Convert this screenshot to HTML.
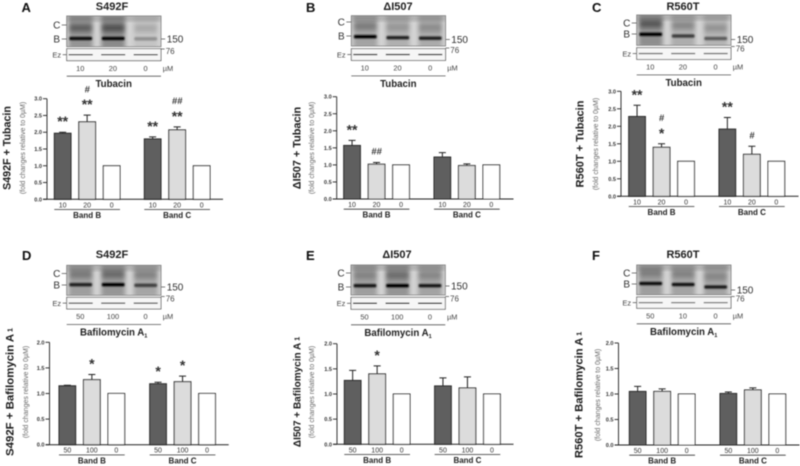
<!DOCTYPE html>
<html lang="en">
<head>
<meta charset="utf-8">
<title>CFTR band quantification panels</title>
<style>
html,body{margin:0;padding:0;background:#fff;width:800px;height:466px;overflow:hidden}
svg{display:block;font-family:"Liberation Sans",sans-serif}
</style>
</head>
<body>
<svg id="figure" xmlns="http://www.w3.org/2000/svg" width="800" height="466" viewBox="0 0 800 466">
<defs>
<filter id="soft" x="-5%" y="-5%" width="110%" height="110%"><feGaussianBlur stdDeviation="0.45"/></filter>
<filter id="smear" x="-30%" y="-30%" width="160%" height="160%"><feGaussianBlur stdDeviation="2.2"/></filter>
<filter id="bandblur" x="-20%" y="-100%" width="140%" height="300%"><feGaussianBlur stdDeviation="0.9"/></filter>
</defs>
<g id="root" filter="url(#soft)"></g>
</svg>
<script>
// Chart data
const barCategories = ["Band B", "Band C"];
const tubacinDoses = ["10", "20", "0"];
const bafilomycinDoses = ["50", "100", "0"];
const bafilomycinBlotDosesF = ["50", "10", "0"];
const tubacinTicks = [0, 0.5, 1, 1.5, 2, 2.5, 3];
const bafilomycinTicks = [0, 0.5, 1, 1.5, 2];

const valuesA = [1.97, 2.31, 1.0, 1.80, 2.07, 1.0];
const errorsA = [0.03, 0.20, 0, 0.06, 0.09, 0];
const marksA = [["**"], ["**", "#"], [], ["**"], ["**", "##"], []];

const valuesB = [1.57, 1.02, 1.0, 1.23, 0.98, 1.0];
const errorsB = [0.15, 0.05, 0, 0.13, 0.05, 0];
const marksB = [["**"], ["##"], [], [], [], []];

const valuesC = [2.28, 1.40, 1.0, 1.92, 1.20, 1.0];
const errorsC = [0.32, 0.10, 0, 0.33, 0.23, 0];
const marksC = [["**"], ["*", "#"], [], ["**"], ["#"], []];

const valuesD = [1.15, 1.27, 1.0, 1.19, 1.23, 1.0];
const errorsD = [0.01, 0.10, 0, 0.03, 0.11, 0];
const marksD = [[], ["*"], [], ["*"], ["*"], []];

const valuesE = [1.27, 1.40, 1.0, 1.16, 1.12, 1.0];
const errorsE = [0.20, 0.16, 0, 0.16, 0.22, 0];
const marksE = [[], ["*"], [], [], [], []];

const valuesF = [1.05, 1.05, 1.0, 1.01, 1.08, 1.0];
const errorsF = [0.10, 0.05, 0, 0.03, 0.04, 0];
const marksF = [[], [], [], [], [], []];

const NS = "http://www.w3.org/2000/svg";
const root = document.getElementById("root");

function mk(tag, attrs, parent) {
  const n = document.createElementNS(NS, tag);
  for (const k in attrs) n.setAttribute(k, attrs[k]);
  parent.appendChild(n);
  return n;
}

const panels = [
  {id:"a", letter:"A", lx:21.5, ly:12, title:"S492F", tx:112, ty:10, drug:"Tubacin", sub:false,
   values:valuesA, errors:errorsA, marks:marksA, ticks:tubacinTicks, blotDoses:tubacinDoses, barDoses:tubacinDoses,
   axisX:47, yTop:98.7, y0:199.3, xEnd:223, bar0:54.3, group2:90,
   bx:66.7, by:16, bh:30.7, ezY:48.7, ezH:12, cY:25, bY:39, kY:39, k76:51, ezO:.75,
   laneB:[.95,1,.25], laneC:[.55,.65,.18], laneBg:[.5,.58,.12], bandY:[22.5,22.5,22.8],
   yl:"S492F + Tubacin", ylS:10.7, ylX:7, subX:23, ylC:148},
  {id:"b", letter:"B", lx:306, ly:12, title:"\u0394I507", tx:398, ty:10, drug:"Tubacin", sub:false,
   values:valuesB, errors:errorsB, marks:marksB, ticks:tubacinTicks, blotDoses:tubacinDoses, barDoses:tubacinDoses,
   axisX:336.7, yTop:96.7, y0:199, xEnd:513.5, bar0:343.7, group2:90.3,
   bx:351.3, by:15.7, bh:30.3, ezY:48.7, ezH:11.7, cY:22, bY:36, kY:39.5, k76:50, ezO:.85,
   laneB:[1,.8,.8], laneC:[.35,.2,.25], laneBg:[.38,.28,.32], bandY:[21,22,22.5],
   yl:"\u0394I507 + Tubacin", ylS:10.9, ylX:297, subX:312, ylC:148},
  {id:"c", letter:"C", lx:592, ly:12, title:"R560T", tx:683, ty:10, drug:"Tubacin", sub:false,
   values:valuesC, errors:errorsC, marks:marksC, ticks:tubacinTicks, blotDoses:tubacinDoses, barDoses:tubacinDoses,
   axisX:621, yTop:91.3, y0:196.3, xEnd:798.5, bar0:628.7, group2:90.3,
   bx:636.7, by:15, bh:30.3, ezY:47.7, ezH:11.7, cY:23, bY:34, kY:39.5, k76:48.5, ezO:.6,
   laneB:[1,.65,.5], laneC:[.6,.3,.25], laneBg:[.55,.3,.25], bandY:[19.3,21,23.5],
   yl:"R560T + Tubacin", ylS:11, ylX:580, subX:596, ylC:144},
  {id:"d", letter:"D", lx:22, ly:260, title:"S492F", tx:112, ty:258, drug:"Bafilomycin A", sub:true,
   values:valuesD, errors:errorsD, marks:marksD, ticks:bafilomycinTicks, blotDoses:bafilomycinDoses, barDoses:bafilomycinDoses,
   axisX:49.5, yTop:342.3, y0:444.7, xEnd:228.7, bar0:59, group2:90.7,
   bx:66.7, by:265.3, bh:30, ezY:297.3, ezH:11.7, cY:273.5, bY:285, kY:287, k76:298.5, ezO:.7,
   laneB:[.8,1,.6], laneC:[.35,.45,.3], laneBg:[.42,.48,.36], bandY:[19.4,19.4,20],
   yl:"S492F + Bafilomycin A", ylSub:" 1", ylS:11.4, ylX:10, subX:26, ylC:392},
  {id:"e", letter:"E", lx:306, ly:260, title:"\u0394I507", tx:397, ty:258, drug:"Bafilomycin A", sub:true,
   values:valuesE, errors:errorsE, marks:marksE, ticks:bafilomycinTicks, blotDoses:bafilomycinDoses, barDoses:bafilomycinDoses,
   axisX:337, yTop:343.7, y0:444.3, xEnd:513.5, bar0:344.3, group2:90.3,
   bx:351, by:265, bh:30, ezY:297.3, ezH:12, cY:273, bY:287, kY:286, k76:298.5, ezO:.95,
   laneB:[.85,1,.85], laneC:[.25,.4,.25], laneBg:[.42,.5,.38], bandY:[20.7,20.7,20.7],
   yl:"\u0394I507 + Bafilomycin A", ylSub:" 1", ylS:10, ylX:297, subX:312, ylC:392},
  {id:"f", letter:"F", lx:592, ly:260, title:"R560T", tx:683, ty:258, drug:"Bafilomycin A", sub:true,
   values:valuesF, errors:errorsF, marks:marksF, ticks:bafilomycinTicks, blotDoses:bafilomycinBlotDosesF, barDoses:bafilomycinDoses,
   axisX:618.5, yTop:343, y0:445, xEnd:799.5, bar0:629.3, group2:90.7,
   bx:636.7, by:265, bh:29.7, ezY:297, ezH:11.3, cY:273, bY:284, kY:290, k76:298.5, ezO:.55,
   laneB:[.95,.9,.85], laneC:[.3,.3,.25], laneBg:[.42,.38,.38], bandY:[18.5,19.5,22],
   yl:"R560T + Bafilomycin A", ylSub:" 1", ylS:11.2, ylX:579, subX:598, ylC:395}
];

const BLOT_W = 94.3, BAR_W = 16.7, BAR_STEP = 24.5;
const barFills = ["#5f5f5f", "#dcdcdc", "#ffffff"];
const ink = "#222";

panels.forEach(function (p) {
  const maxTick = p.ticks[p.ticks.length - 1];
  const yScale = function (v) { return p.y0 - (v / maxTick) * (p.y0 - p.yTop); };
  const xScale = function (i) {
    const g = Math.floor(i / 3);
    return p.bar0 + (i % 3) * BAR_STEP + g * p.group2;
  };

  const panel = mk("g", {id: "panel-" + p.id}, root);
  
  

  const letter = mk("text", {x: p.lx, y: p.ly, "font-size": 13, "font-weight": "bold", fill: "#111"}, panel);
  letter.textContent = p.letter;
  
  

  const title = mk("text", {x: p.tx, y: p.ty, "font-size": 11, "font-weight": "bold", "text-anchor": "middle", fill: "#222"}, panel);
  title.textContent = p.title;
  
  

  // Blot image
  const blot = mk("g", {}, panel);
  
  
  const clipId = "clip-" + p.id;
  const clip = mk("clipPath", {id: clipId}, blot);
  mk("rect", {x: p.bx, y: p.by, width: BLOT_W, height: p.bh}, clip);
  const inner = mk("g", {"clip-path": "url(#" + clipId + ")"}, blot);
  mk("rect", {x: p.bx, y: p.by, width: BLOT_W, height: p.bh, fill: "#d4d4d4"}, inner);
  mk("rect", {x: p.bx, y: p.by, width: BLOT_W, height: 5, fill: "#a8a8a8", filter: "url(#smear)"}, inner);
  [0, 1, 2].forEach(function (l) {
    const cx = p.bx + 14 + l * 32.5;
    mk("rect", {x: cx - 12, y: p.by - 2, width: 24, height: p.bh + 4, fill: "#555", opacity: p.laneBg[l], filter: "url(#smear)"}, inner);
    mk("rect", {x: cx - 11, y: p.by + p.bandY[l] - 14, width: 22, height: 7, fill: "#333", opacity: p.laneC[l], filter: "url(#smear)"}, inner);
    const band = mk("rect", {x: cx - 11.5, y: p.by + p.bandY[l] - 1.8, width: 23, height: 3.6, rx: 1.5, fill: "#000", opacity: p.laneB[l], filter: "url(#bandblur)"}, inner);
    
    
  });
  mk("rect", {x: p.bx, y: p.by, width: BLOT_W, height: p.bh, fill: "none", stroke: "#777", "stroke-width": 0.8}, blot);

  // Ezrin loading control
  const ez = mk("g", {}, panel);
  
  
  mk("rect", {x: p.bx, y: p.ezY, width: BLOT_W, height: p.ezH, fill: "#f6f6f6", stroke: "#555", "stroke-width": 0.8}, ez);
  [0, 1, 2].forEach(function (l) {
    const cx = p.bx + 14 + l * 32.5;
    mk("rect", {x: cx - 12, y: p.ezY + p.ezH / 2 - 0.7, width: 24, height: 1.4, fill: "#222", opacity: p.ezO}, ez);
  });

  // Blot labels
  [["C", p.cY, 10, "blot-label-c"], ["B", p.bY, 10, "blot-label-b"]].forEach(function (d) {
    const t = mk("text", {x: p.bx - 10, y: d[1] + 3.5, "font-size": d[2], "text-anchor": "middle", fill: "#333"}, panel);
    t.textContent = d[0];
    
    
    mk("line", {x1: p.bx - 5, x2: p.bx, y1: d[1], y2: d[1], stroke: "#444", "stroke-width": 0.7}, panel);
  });
  const ezl = mk("text", {x: p.bx - 10, y: p.ezY + p.ezH / 2 + 2.8, "font-size": 7.5, "text-anchor": "middle", fill: "#444"}, panel);
  ezl.textContent = "Ez";
  
  
  mk("line", {x1: p.bx - 4, x2: p.bx, y1: p.ezY + p.ezH / 2, y2: p.ezY + p.ezH / 2, stroke: "#444", "stroke-width": 0.7}, panel);

  const k150 = mk("text", {x: p.bx + 100, y: p.kY + 3.5, "font-size": 10, fill: "#333"}, panel);
  k150.textContent = "150";
  
  
  mk("line", {x1: p.bx + BLOT_W, x2: p.bx + 98.5, y1: p.kY, y2: p.kY, stroke: "#444", "stroke-width": 0.7}, panel);

  const k76 = mk("text", {x: p.bx + 99, y: p.k76 + 3, "font-size": 8, fill: "#444"}, panel);
  k76.textContent = "76";
  
  
  mk("line", {x1: p.bx + BLOT_W, x2: p.bx + 98, y1: p.k76 - 2, y2: p.k76 - 2, stroke: "#444", "stroke-width": 0.7}, panel);

  // Blot doses
  const doseY = p.ezY + p.ezH + 10.2;
  p.blotDoses.forEach(function (d, i) {
    const t = mk("text", {x: p.bx + 13.5 + i * 32.7, y: doseY, "font-size": 7.4, "text-anchor": "middle", fill: "#444"}, panel);
    t.textContent = d;
    
    
  });
  const um = mk("text", {x: p.bx + 96, y: doseY, "font-size": 7.4, fill: "#444"}, panel);
  um.textContent = "\u00b5M";
  
  
  mk("line", {x1: p.bx, x2: p.bx + BLOT_W, y1: p.ezY + p.ezH + 15.5, y2: p.ezY + p.ezH + 15.5, stroke: "#555", "stroke-width": 0.8}, panel);

  const drug = mk("text", {x: p.bx + 47, y: p.ezY + p.ezH + 26.5, "font-size": 9.7, "font-weight": "bold", "text-anchor": "middle", fill: "#222"}, panel);
  drug.textContent = p.drug;
  if (p.sub) {
    const s = mk("tspan", {"font-size": 5.5, dy: 2}, drug);
    s.textContent = "1";
  }
  
  

  // Y axis titles
  const yl = mk("text", {transform: "translate(" + (p.ylX + 3.6) + "," + p.ylC + ") rotate(-90)", "font-size": p.ylS, "font-weight": "bold", "text-anchor": "middle", fill: "#1a1a1a"}, panel);
  yl.textContent = p.yl;
  if (p.ylSub) {
    const s2 = mk("tspan", {"font-size": 7, dy: -1}, yl);
    s2.textContent = p.ylSub;
  }
  
  

  const ysub = mk("text", {transform: "translate(" + (p.subX + 2) + "," + p.ylC + ") rotate(-90)", "font-size": 7, "text-anchor": "middle", fill: "#666"}, panel);
  ysub.textContent = "(fold changes relative to 0\u00b5M)";
  
  

  // Axes
  const yAxis = mk("line", {x1: p.axisX, x2: p.axisX, y1: p.yTop, y2: p.y0, stroke: ink, "stroke-width": 0.9}, panel);
  
  
  const xAxis = mk("line", {x1: p.axisX - 4, x2: p.xEnd, y1: p.y0, y2: p.y0, stroke: ink, "stroke-width": 1}, panel);
  
  

  p.ticks.forEach(function (v) {
    const y = yScale(v);
    mk("line", {x1: p.axisX - 4, x2: p.axisX, y1: y, y2: y, stroke: ink, "stroke-width": 0.9}, panel);
    const t = mk("text", {x: p.axisX - 5, y: y + 2, "font-size": 5.6, "font-weight": "bold", "text-anchor": "end", fill: "#333"}, panel);
    t.textContent = v.toFixed(1);
    
    
  });

  // Bars
  p.values.forEach(function (v, i) {
    const x = xScale(i), y = yScale(v), cx = x + BAR_W / 2;
    const rect = mk("rect", {x: x, y: y, width: BAR_W, height: p.y0 - y, fill: barFills[i % 3], stroke: ink, "stroke-width": 1}, panel);
    
    

    const err = p.errors[i];
    const topY = yScale(v + err);
    if (err > 0) {
      const eb = mk("path", {d: "M" + cx + " " + y + "V" + topY + "M" + (cx - 3.5) + " " + topY + "H" + (cx + 3.5), stroke: ink, "stroke-width": 1, fill: "none"}, panel);
      
      
    }

    p.marks[i].forEach(function (m, j) {
      const isHash = m.charAt(0) === "#";
      const off = j === 0 ? (isHash ? 11 : 12.5) : 26;
      const my = topY - off;
      const mt = mk("text", {x: cx, y: isHash ? my + 3.2 : my + 6.5, "font-size": isHash ? 9.5 : 14, "font-weight": "bold", "font-style": isHash ? "italic" : "normal", "text-anchor": "middle", fill: "#333"}, panel);
      mt.textContent = m;
      
      
    });

    const dl = mk("text", {x: cx, y: p.y0 + 8, "font-size": 7, "text-anchor": "middle", fill: "#333"}, panel);
    dl.textContent = p.barDoses[i % 3];
    
    
  });

  barCategories.forEach(function (c, g) {
    const x1 = xScale(g * 3), x2 = xScale(g * 3 + 2) + BAR_W;
    mk("line", {x1: x1, x2: x2, y1: p.y0 + 10.2, y2: p.y0 + 10.2, stroke: "#333", "stroke-width": 0.8}, panel);
    const t = mk("text", {x: (x1 + x2) / 2, y: p.y0 + 18.7, "font-size": 8, "font-weight": "bold", "text-anchor": "middle", fill: "#222"}, panel);
    t.textContent = c;
    
    
  });
});
</script>
</body>
</html>
